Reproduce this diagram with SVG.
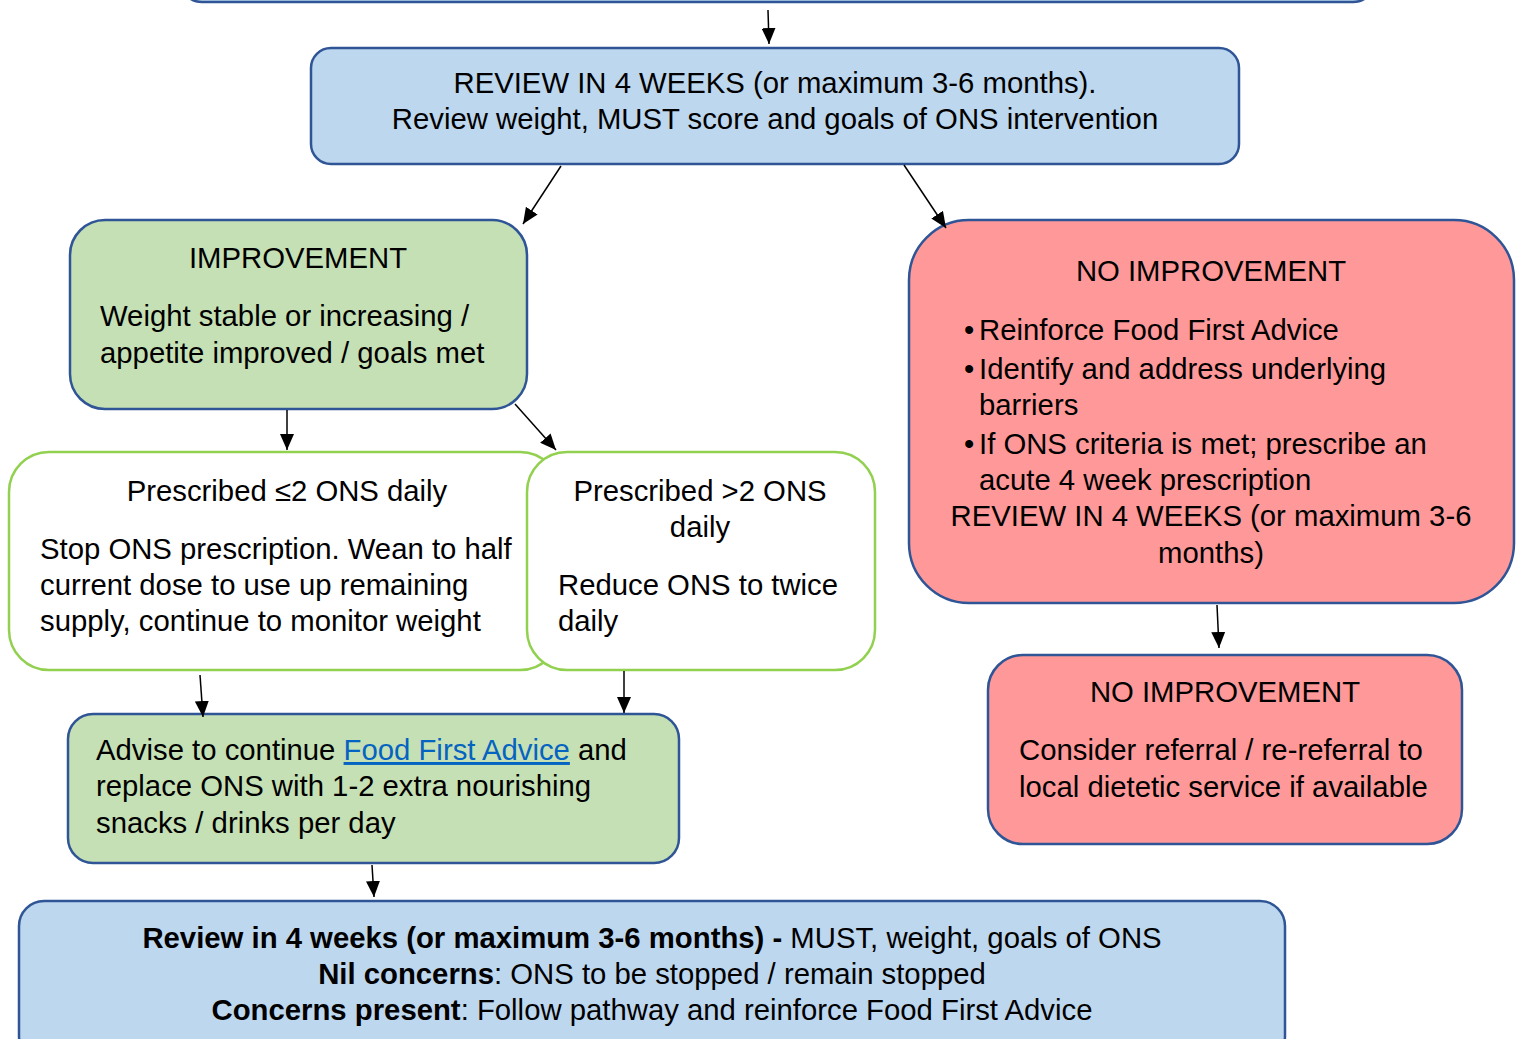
<svg xmlns="http://www.w3.org/2000/svg" width="1518" height="1039" viewBox="0 0 1518 1039">
<style>
text{font-family:"Liberation Sans",Arial,sans-serif;font-size:29.3px;fill:#000}
.c{text-anchor:middle}
.b{font-weight:bold}
.blue{fill:#BDD7EE;stroke:#2F5597;stroke-width:2.5}
.green{fill:#C5E0B4;stroke:#2F5597;stroke-width:2.5}
.red{fill:#FF9999;stroke:#2F5597;stroke-width:2.5}
.white{fill:#FFFFFF;stroke:#92D050;stroke-width:2.5}
.link{fill:#0563C1;text-decoration:underline}
.con line{stroke:#000;stroke-width:1.5;marker-end:url(#ah)}
</style>
<defs>
<marker id="ah" markerUnits="userSpaceOnUse" markerWidth="16" markerHeight="14" refX="16" refY="7" orient="auto">
<path d="M0,0 L16,7 L0,14 Z" fill="#000"/>
</marker>
</defs>
<rect width="1518" height="1039" fill="#fff"/>
<g id="top"><rect class="blue" x="180" y="-60" width="1195" height="62" rx="22"/></g>
<g id="review1">
<rect class="blue" x="311" y="48" width="928" height="116" rx="20"/>
<text class="c" x="775" y="93">REVIEW IN 4 WEEKS (or maximum 3-6 months).</text>
<text class="c" x="775" y="129">Review weight, MUST score and goals of ONS intervention</text>
</g>
<g id="improvement">
<rect class="green" x="70" y="220" width="457" height="189" rx="35"/>
<text class="c" x="298" y="268">IMPROVEMENT</text>
<text x="100" y="326">Weight stable or increasing /</text>
<text x="100" y="363">appetite improved / goals met</text>
</g>
<g id="noimprovement1">
<rect class="red" x="909" y="220" width="605" height="383" rx="60"/>
<text class="c" x="1211" y="281">NO IMPROVEMENT</text>
<text x="964" y="340">•</text><text x="979" y="340">Reinforce Food First Advice</text>
<text x="964" y="379">•</text><text x="979" y="379">Identify and address underlying</text>
<text x="979" y="415">barriers</text>
<text x="964" y="454">•</text><text x="979" y="454">If ONS criteria is met; prescribe an</text>
<text x="979" y="490">acute 4 week prescription</text>
<text class="c" x="1211" y="526">REVIEW IN 4 WEEKS (or maximum 3-6</text>
<text class="c" x="1211" y="563">months)</text>
</g>
<g id="le2">
<rect class="white" x="9" y="452" width="551" height="218" rx="40"/>
<text class="c" x="287" y="501">Prescribed ≤2 ONS daily</text>
<text x="40" y="559">Stop ONS prescription. Wean to half</text>
<text x="40" y="595">current dose to use up remaining</text>
<text x="40" y="631">supply, continue to monitor weight</text>
</g>
<g id="gt2">
<rect class="white" x="527" y="452" width="348" height="218" rx="40"/>
<text class="c" x="700" y="501">Prescribed &gt;2 ONS</text>
<text class="c" x="700" y="537">daily</text>
<text x="558" y="595">Reduce ONS to twice</text>
<text x="558" y="631">daily</text>
</g>
<g id="advise">
<rect class="green" x="68" y="714" width="611" height="149" rx="25"/>
<text x="96" y="760">Advise to continue <tspan class="link">Food First Advice</tspan> and</text>
<text x="96" y="796">replace ONS with 1-2 extra nourishing</text>
<text x="96" y="833">snacks / drinks per day</text>
</g>
<g id="noimprovement2">
<rect class="red" x="988" y="655" width="474" height="189" rx="35"/>
<text class="c" x="1225" y="702">NO IMPROVEMENT</text>
<text x="1019" y="760">Consider referral / re-referral to</text>
<text x="1019" y="797">local dietetic service if available</text>
</g>
<g id="review2">
<rect class="blue" x="19" y="901" width="1266" height="160" rx="25"/>
<text class="c" x="652" y="948"><tspan class="b">Review in 4 weeks (or maximum 3-6 months) -</tspan> MUST, weight, goals of ONS</text>
<text class="c" x="652" y="984"><tspan class="b">Nil concerns</tspan>: ONS to be stopped / remain stopped</text>
<text class="c" x="652" y="1020"><tspan class="b">Concerns present</tspan>: Follow pathway and reinforce Food First Advice</text>
</g>
<g id="connectors" class="con">
<line x1="768" y1="10" x2="769" y2="44"/>
<line x1="561" y1="166" x2="523" y2="224"/>
<line x1="904" y1="165" x2="946" y2="228"/>
<line x1="287" y1="410" x2="287" y2="450"/>
<line x1="515" y1="404" x2="556" y2="450"/>
<line x1="200" y1="675" x2="203" y2="717"/>
<line x1="624" y1="671" x2="624" y2="713"/>
<line x1="1217" y1="605" x2="1219" y2="648"/>
<line x1="372" y1="865" x2="374" y2="897"/>
</g>
</svg>
